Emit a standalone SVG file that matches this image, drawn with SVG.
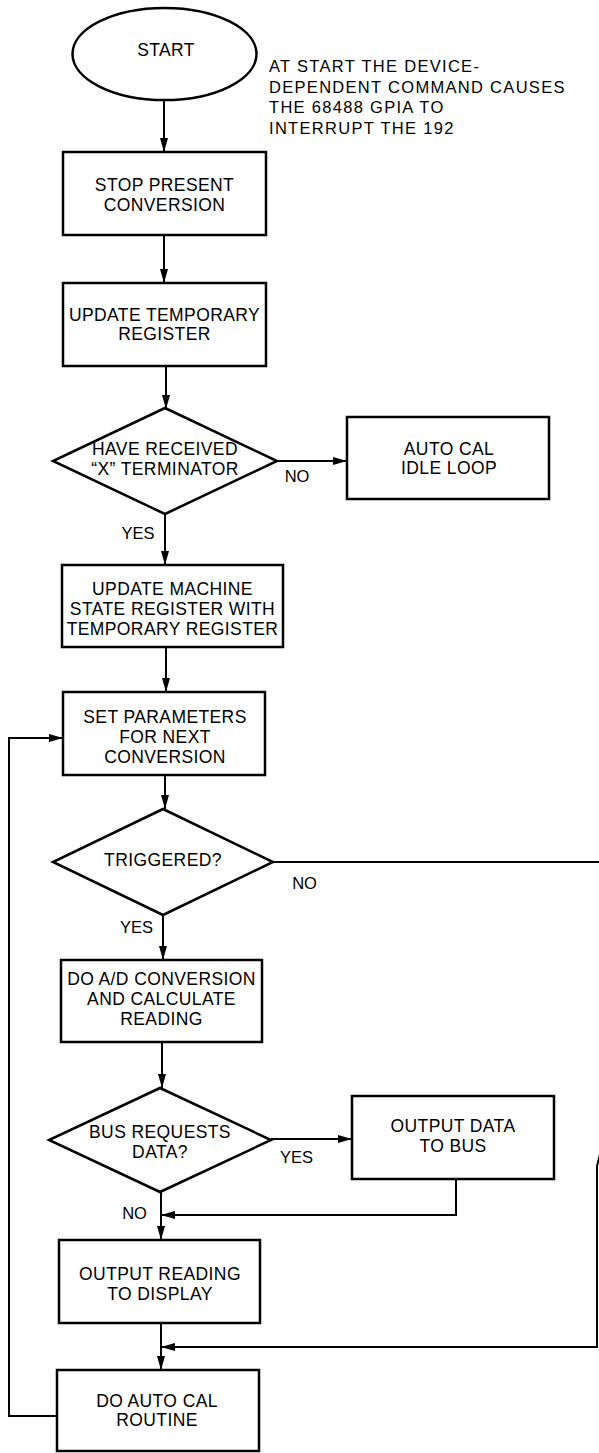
<svg xmlns="http://www.w3.org/2000/svg" width="599" height="1453" viewBox="0 0 599 1453">
<defs>
<marker id="ah" viewBox="0 0 14 8" refX="14" refY="4" markerWidth="14" markerHeight="8" markerUnits="userSpaceOnUse" orient="auto">
<path d="M0,0 L14,4 L0,8 z" fill="#000"/>
</marker>
<style>
.shape{fill:#fff;stroke:#000;stroke-width:2.5}
.t{font-family:"Liberation Sans",Arial,Helvetica,sans-serif;font-size:17.5px;letter-spacing:0.4px;fill:#000;text-anchor:middle}
.lbl{font-family:"Liberation Sans",Arial,Helvetica,sans-serif;font-size:16.5px;fill:#000;text-anchor:middle}
.note{font-family:"Liberation Sans",Arial,Helvetica,sans-serif;font-size:16.5px;letter-spacing:1.3px;fill:#000}
.c{fill:none;stroke:#000;stroke-width:2}
.ca{fill:none;stroke:#000;stroke-width:2;marker-end:url(#ah)}
</style>
</defs>
<rect width="599" height="1453" fill="#fff"/>

<g id="connectors">
<path class="ca" d="M164,100 V152"/>
<path class="ca" d="M164,235 V283"/>
<path class="ca" d="M166,366 V409"/>
<path class="ca" d="M277,461 H347"/>
<path class="ca" d="M165,514 V565"/>
<path class="ca" d="M166,647 V692"/>
<path class="ca" d="M165,775 V809"/>
<path class="ca" d="M163,915 V960"/>
<path class="ca" d="M273,862 H601 V1150 L597,1166 V1347 H161"/>
<path class="ca" d="M162,1042 V1088"/>
<path class="ca" d="M271,1139 H352"/>
<path class="ca" d="M456,1179 V1215 H161"/>
<path class="ca" d="M161,1192 V1240"/>
<path class="ca" d="M161,1323 V1370"/>
<path class="ca" d="M57,1416 H9 V738 H63"/>
</g>

<g id="start">
<ellipse class="shape" cx="164.5" cy="54" rx="92" ry="46"/>
<text class="t" x="166" y="56">START</text>
</g>

<g id="note">
<text class="note" x="269" y="72">AT START THE DEVICE-</text>
<text class="note" x="269" y="92.5">DEPENDENT COMMAND CAUSES</text>
<text class="note" x="269" y="113">THE 68488 GPIA TO</text>
<text class="note" x="269" y="133.5">INTERRUPT THE 192</text>
</g>

<g id="stop">
<rect class="shape" x="63" y="152" width="203" height="83"/>
<text class="t" x="164.5" y="191">STOP PRESENT</text>
<text class="t" x="164.5" y="211">CONVERSION</text>
</g>

<g id="update-temp">
<rect class="shape" x="63" y="283" width="203" height="83"/>
<text class="t" x="164.5" y="321">UPDATE TEMPORARY</text>
<text class="t" x="164.5" y="340">REGISTER</text>
</g>

<g id="received-x">
<polygon class="shape" points="165,408 277,461 165,514 53,461"/>
<text class="t" x="165" y="455">HAVE RECEIVED</text>
<text class="t" x="165" y="475">“X” TERMINATOR</text>
</g>
<text class="lbl" x="297" y="482">NO</text>
<text class="lbl" x="138" y="539">YES</text>

<g id="auto-cal-idle">
<rect class="shape" x="347" y="417" width="202" height="82"/>
<text class="t" x="449" y="455">AUTO CAL</text>
<text class="t" x="449" y="474">IDLE LOOP</text>
</g>

<g id="update-machine">
<rect class="shape" x="62" y="565" width="221" height="82"/>
<text class="t" x="172.5" y="595">UPDATE MACHINE</text>
<text class="t" x="172.5" y="615">STATE REGISTER WITH</text>
<text class="t" x="172.5" y="635">TEMPORARY REGISTER</text>
</g>

<g id="set-params">
<rect class="shape" x="63" y="692" width="202" height="83"/>
<text class="t" x="165" y="723">SET PARAMETERS</text>
<text class="t" x="165" y="743">FOR NEXT</text>
<text class="t" x="165" y="763">CONVERSION</text>
</g>

<g id="triggered">
<polygon class="shape" points="163,809 273,862 163,915 53,862"/>
<text class="t" x="163" y="866">TRIGGERED?</text>
</g>
<text class="lbl" x="304.5" y="889">NO</text>
<text class="lbl" x="136.5" y="933">YES</text>

<g id="ad-conversion">
<rect class="shape" x="61" y="960" width="201" height="82"/>
<text class="t" x="161.5" y="985">DO A/D CONVERSION</text>
<text class="t" x="161.5" y="1005">AND CALCULATE</text>
<text class="t" x="161.5" y="1025">READING</text>
</g>

<g id="bus-requests">
<polygon class="shape" points="160,1088 271,1140 160,1192 49,1140"/>
<text class="t" x="160" y="1138">BUS REQUESTS</text>
<text class="t" x="160" y="1158">DATA?</text>
</g>
<text class="lbl" x="296.5" y="1163">YES</text>
<text class="lbl" x="134.5" y="1219">NO</text>

<g id="output-bus">
<rect class="shape" x="352" y="1096" width="202" height="83"/>
<text class="t" x="453" y="1132">OUTPUT DATA</text>
<text class="t" x="453" y="1152">TO BUS</text>
</g>

<g id="output-display">
<rect class="shape" x="59" y="1240" width="201" height="83"/>
<text class="t" x="160" y="1280">OUTPUT READING</text>
<text class="t" x="160" y="1300">TO DISPLAY</text>
</g>

<g id="auto-cal-routine">
<rect class="shape" x="57" y="1370" width="202" height="81"/>
<text class="t" x="157" y="1407">DO AUTO CAL</text>
<text class="t" x="157" y="1426">ROUTINE</text>
</g>
</svg>
